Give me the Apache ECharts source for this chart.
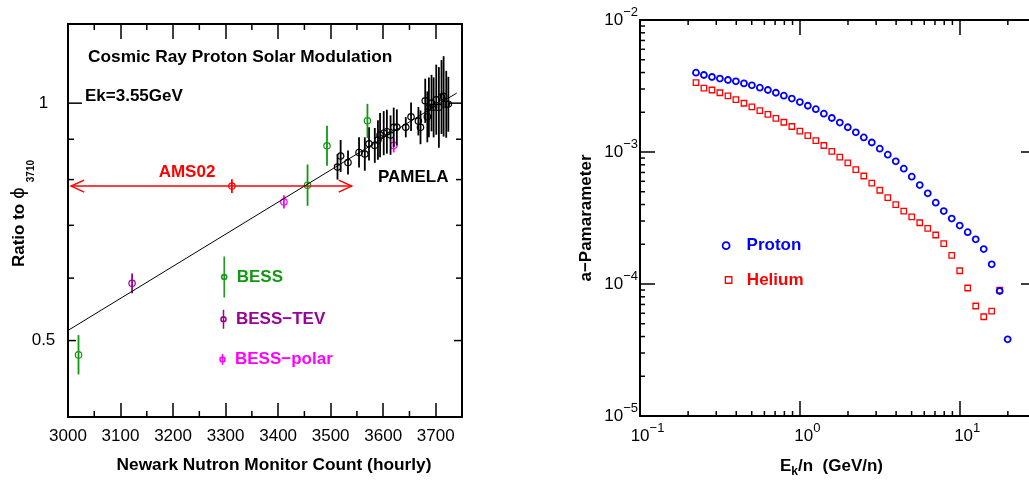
<!DOCTYPE html>
<html>
<head>
<meta charset="utf-8">
<script src="https://cdn.jsdelivr.net/npm/echarts@6.0.0/dist/echarts.min.js"></script>
<style>
  html, body { margin: 0; padding: 0; background: #fff; }
  #chart { width: 1029px; height: 482px; }
</style>
</head>
<body>
<div id="chart"></div>
<script>
// ---- left panel: ratio to phi_3710 vs Newark count ----
const countMin = 3000, countMax = 3750;
const countMinorTicks = [3050, 3150, 3250, 3350, 3450, 3550, 3650];
const ratioMin = 0.4, ratioMax = 1.26;
const ratioTicks = [0.5, 0.6, 0.7, 0.8, 0.9, 1];
const ratioTickLabels = ["0.5", "", "", "", "", "1"];

// fit line end points
const fitLineX = [3000, 3740];
const fitLineY = [0.515, 1.03];

// [count, ratio, ratio low, ratio high]
const pamela = [
  [3513, 0.830, 0.800, 0.862], [3519, 0.857, 0.818, 0.898], [3533, 0.841, 0.812, 0.871],
  [3554, 0.866, 0.829, 0.905], [3565, 0.862, 0.821, 0.905], [3573, 0.888, 0.846, 0.932],
  [3584, 0.884, 0.840, 0.930], [3590, 0.898, 0.848, 0.951], [3594, 0.911, 0.854, 0.972],
  [3601, 0.916, 0.859, 0.977], [3607, 0.920, 0.863, 0.981], [3614, 0.911, 0.860, 0.965],
  [3620, 0.932, 0.880, 0.987], [3626, 0.932, 0.884, 0.982], [3643, 0.932, 0.905, 0.960],
  [3653, 0.961, 0.922, 1.002], [3667, 0.949, 0.910, 0.989], [3671, 0.932, 0.887, 0.979],
  [3680, 1.007, 0.944, 1.074], [3684, 0.961, 0.892, 1.035], [3687, 0.988, 0.905, 1.078],
  [3692, 1.000, 0.921, 1.086], [3696, 0.988, 0.905, 1.078], [3701, 1.010, 0.912, 1.119],
  [3706, 0.988, 0.878, 1.111], [3711, 1.018, 0.914, 1.134], [3715, 1.020, 0.907, 1.147],
  [3720, 0.997, 0.904, 1.099], [3724, 0.997, 0.920, 1.080]
];
const bess = [
  [3020, 0.4795, 0.453, 0.508], [3456, 0.787, 0.741, 0.836],
  [3493, 0.883, 0.833, 0.936], [3570, 0.950, 0.903, 0.998]
];
const bessTev = [[3122, 0.591, 0.574, 0.608]];
const bessPolar = [[3411, 0.7495, 0.735, 0.764], [3620, 0.884, 0.866, 0.902]];
// [count, ratio, low, high, count from, count to]
const ams02 = [[3312, 0.785, 0.769, 0.801, 3006, 3540]];

// ---- right panel: a-parameter vs Ek/n ----
const energy = [
  0.224, 0.251, 0.282, 0.316, 0.355, 0.398, 0.447, 0.501, 0.562, 0.631,
  0.708, 0.794, 0.891, 1.0, 1.122, 1.259, 1.413, 1.585, 1.778, 1.995,
  2.239, 2.512, 2.818, 3.162, 3.548, 3.981, 4.467, 5.012, 5.623, 6.310,
  7.079, 7.943, 8.913, 10.0, 11.22, 12.59, 14.13, 15.85, 17.78, 19.95
];
const proton = [
  3.99e-3, 3.83e-3, 3.70e-3, 3.60e-3, 3.51e-3, 3.43e-3, 3.31e-3, 3.20e-3, 3.07e-3, 2.95e-3,
  2.81e-3, 2.67e-3, 2.54e-3, 2.39e-3, 2.24e-3, 2.11e-3, 1.95e-3, 1.81e-3, 1.67e-3, 1.54e-3,
  1.41e-3, 1.29e-3, 1.18e-3, 1.06e-3, 9.54e-4, 8.50e-4, 7.48e-4, 6.50e-4, 5.62e-4, 4.86e-4,
  4.13e-4, 3.57e-4, 3.13e-4, 2.77e-4, 2.47e-4, 2.18e-4, 1.84e-4, 1.41e-4, 8.85e-5, 3.81e-5
];
const helium = [
  3.35e-3, 3.05e-3, 2.95e-3, 2.81e-3, 2.66e-3, 2.49e-3, 2.34e-3, 2.20e-3, 2.06e-3, 1.93e-3,
  1.80e-3, 1.68e-3, 1.56e-3, 1.44e-3, 1.33e-3, 1.22e-3, 1.12e-3, 1.01e-3, 9.16e-4, 8.26e-4,
  7.35e-4, 6.58e-4, 5.82e-4, 5.13e-4, 4.51e-4, 3.99e-4, 3.56e-4, 3.22e-4, 2.91e-4, 2.64e-4,
  2.35e-4, 2.02e-4, 1.65e-4, 1.26e-4, 9.33e-5, 6.81e-5, 5.65e-5, 6.24e-5, 9.0e-5
];
const energyMin = 0.1, energyMax = 30;
const aMin = 1e-5, aMax = 1e-2;
const energyMinorTicks = [0.2, 0.3, 0.4, 0.5, 0.6, 0.7, 0.8, 0.9, 2, 3, 4, 5, 6, 7, 8, 9, 20];
const aMinorTicks = [
  2e-5, 3e-5, 4e-5, 5e-5, 6e-5, 7e-5, 8e-5, 9e-5,
  2e-4, 3e-4, 4e-4, 5e-4, 6e-4, 7e-4, 8e-4, 9e-4,
  2e-3, 3e-3, 4e-3, 5e-3, 6e-3, 7e-3, 8e-3, 9e-3
];

const FONT = "'Liberation Sans', Arial, Helvetica, sans-serif";
const GREEN = "#119911", PURPLE = "#990099", MAGENTA = "#ff00ff", RED = "#ff0000", BLUE = "#0000ff";

// 误差棒 + 空心圆
const errorPoint = (color) => (params, api) => {
  const x = api.value(0);
  const p = api.coord([x, api.value(1)]);
  const lo = api.coord([x, api.value(2)]);
  const hi = api.coord([x, api.value(3)]);
  return {
    type: "group",
    children: [
      { type: "line", shape: { x1: p[0], y1: lo[1], x2: p[0], y2: hi[1] }, style: { stroke: color, lineWidth: 1.8 } },
      { type: "circle", shape: { cx: p[0], cy: p[1], r: 3.2 }, style: { stroke: color, fill: "none", lineWidth: 1.2 } },
    ],
  };
};

// AMS02: 点 + 横向双箭头
const ams02Item = (params, api) => {
  const y = api.value(1);
  const p = api.coord([api.value(0), y]);
  const lo = api.coord([api.value(0), api.value(2)]);
  const hi = api.coord([api.value(0), api.value(3)]);
  const a = api.coord([api.value(4), y]);
  const b = api.coord([api.value(5), y]);
  const st = { stroke: RED, lineWidth: 1.5, fill: "none" };
  return {
    type: "group",
    children: [
      { type: "line", shape: { x1: a[0], y1: a[1], x2: b[0], y2: b[1] }, style: st },
      { type: "polyline", shape: { points: [[a[0] + 13, a[1] - 6], [a[0], a[1]], [a[0] + 13, a[1] + 6]] }, style: st },
      { type: "polyline", shape: { points: [[b[0] - 13, b[1] - 6], [b[0], b[1]], [b[0] - 13, b[1] + 6]] }, style: st },
      { type: "line", shape: { x1: p[0], y1: lo[1], x2: p[0], y2: hi[1] }, style: { stroke: RED, lineWidth: 1.8 } },
      { type: "circle", shape: { cx: p[0], cy: p[1], r: 3.2 }, style: { stroke: RED, fill: "none", lineWidth: 1.2 } },
    ],
  };
};

const tickStyle = { stroke: "#000", lineWidth: 1.5 };

// 左图 y 轴刻度（对数轴自定义刻度）
const ratioTickItem = (params, api) => {
  const cs = params.coordSys;
  const y = api.coord([api.value(0), api.value(1)])[1];
  const label = ratioTickLabels[params.dataIndex];
  const len = label === "1" ? 14 : label ? 8 : 6;
  const children = [
    { type: "line", shape: { x1: cs.x, y1: y, x2: cs.x + len, y2: y }, style: tickStyle },
    { type: "line", shape: { x1: cs.x + cs.width, y1: y, x2: cs.x + cs.width - len, y2: y }, style: tickStyle },
  ];
  if (label) {
    children.push({
      type: "text", x: cs.x - 24.5, y: y,
      style: { text: label, fill: "#000", fontSize: 17, fontFamily: FONT,
        align: "center", verticalAlign: "middle", textAlign: "center", textVerticalAlign: "middle" },
    });
  }
  return { type: "group", children };
};

// 上下边的小刻度
const xMinorItem = (len) => (params, api) => {
  const cs = params.coordSys;
  const x = api.coord([api.value(0), api.value(1)])[0];
  const bottom = cs.y + cs.height;
  return {
    type: "group",
    children: [
      { type: "line", shape: { x1: x, y1: cs.y, x2: x, y2: cs.y + len }, style: tickStyle },
      { type: "line", shape: { x1: x, y1: bottom, x2: x, y2: bottom - len }, style: tickStyle },
    ],
  };
};
// 左右边的小刻度
const yMinorItem = (len) => (params, api) => {
  const cs = params.coordSys;
  const y = api.coord([api.value(0), api.value(1)])[1];
  const right = cs.x + cs.width;
  return {
    type: "group",
    children: [
      { type: "line", shape: { x1: cs.x, y1: y, x2: cs.x + len, y2: y }, style: tickStyle },
      { type: "line", shape: { x1: right, y1: y, x2: right - len, y2: y }, style: tickStyle },
    ],
  };
};

const powLabel = (v) => {
  const e = Math.round(Math.log10(v));
  return (e < 0 ? "\u2212" + -e : "" + e);
};
const powRich = {
  b: { fontSize: 17, fontFamily: FONT, color: "#000" },
  e: { fontSize: 13, fontFamily: FONT, color: "#000", padding: [0, 0, 16, 0] },
};
const powRichX = {
  b: { fontSize: 17, fontFamily: FONT, color: "#000", padding: [0, 0, 0, 15] },
  e: { fontSize: 13, fontFamily: FONT, color: "#000", padding: [0, 0, 16, 0] },
};

const hiddenAxisParts = { axisLine: { show: false }, splitLine: { show: false } };

const chart = echarts.init(document.getElementById("chart"));

const option = {
  animation: false,
  textStyle: { fontFamily: FONT },
  grid: [
    { left: 68, top: 24, width: 394, height: 393, show: true, borderColor: "#000", borderWidth: 2,
      backgroundColor: "transparent", containLabel: false, outerBoundsMode: "none" },
    { left: 640, top: 20, width: 396, height: 396, show: true, borderColor: "#000", borderWidth: 2,
      backgroundColor: "transparent", containLabel: false, outerBoundsMode: "none" },
  ],
  xAxis: [
    {
      gridIndex: 0, type: "value", position: "bottom", min: countMin, max: countMax, interval: 100,
      ...hiddenAxisParts,
      axisTick: { show: true, inside: true, length: 14, lineStyle: { color: "#000", width: 1.5 } },
      axisLabel: { color: "#000", fontSize: 17, fontFamily: FONT, margin: 11, showMaxLabel: false,
        formatter: (v) => String(v) },
      name: "Newark Nutron Monitor Count (hourly)", nameLocation: "middle", nameGap: 40,
      nameTextStyle: { color: "#000", fontSize: 17.3, fontWeight: "bold", fontFamily: FONT, padding: [0, 0, 0, 18] },
    },
    {
      gridIndex: 0, type: "value", position: "top", min: countMin, max: countMax, interval: 100,
      ...hiddenAxisParts,
      axisTick: { show: true, inside: true, length: 15, lineStyle: { color: "#000", width: 1.5 } },
      axisLabel: { show: false },
    },
    {
      gridIndex: 1, type: "log", logBase: 10, position: "bottom", min: energyMin, max: energyMax,
      ...hiddenAxisParts,
      axisTick: { show: true, inside: true, length: 15, lineStyle: { color: "#000", width: 1.5 } },
      axisLabel: {
        margin: 6, showMaxLabel: false,
        formatter: (v) => "{b|10}{e|" + powLabel(v) + "}", rich: powRichX,
      },
      name: "{b|E}{k|k}{b|/n  (GeV/n)}", nameLocation: "middle", nameGap: 38,
      nameTextStyle: {
        color: "#000", fontSize: 17, fontWeight: "bold", fontFamily: FONT, padding: [0, 13, 0, 0],
        rich: {
          b: { fontSize: 17, fontWeight: "bold", fontFamily: FONT, color: "#000" },
          k: { fontSize: 12, fontWeight: "bold", fontFamily: FONT, color: "#000", padding: [12, 0, 0, 0] },
        },
      },
    },
    {
      gridIndex: 1, type: "log", logBase: 10, position: "top", min: energyMin, max: energyMax,
      ...hiddenAxisParts,
      axisTick: { show: true, inside: true, length: 15, lineStyle: { color: "#000", width: 1.5 } },
      axisLabel: { show: false },
    },
  ],
  yAxis: [
    {
      gridIndex: 0, type: "log", logBase: 10, min: ratioMin, max: ratioMax,
      ...hiddenAxisParts,
      axisTick: { show: false },
      axisLabel: { show: false },
      name: "Ratio to {phi|\u03d5}{sub|3710}", nameLocation: "middle", nameGap: 32,
      nameTextStyle: {
        color: "#000", fontSize: 17, fontWeight: "bold", fontFamily: FONT, padding: [0, 0, 0, 14],
        rich: {
          phi: { fontSize: 18, fontWeight: "normal", fontFamily: "'DejaVu Sans'", color: "#000" },
          sub: { fontSize: 10, fontWeight: "bold", fontFamily: FONT, color: "#000", padding: [24, 0, 0, 5] },
        },
      },
    },
    {
      gridIndex: 1, type: "log", logBase: 10, position: "left", min: aMin, max: aMax,
      ...hiddenAxisParts,
      axisTick: { show: true, inside: true, length: 15, lineStyle: { color: "#000", width: 1.5 } },
      axisLabel: {
        margin: 2,
        formatter: (v) => "{b|10}{e|" + powLabel(v) + "}", rich: powRich,
      },
      name: "a\u2212Pamarameter", nameLocation: "middle", nameGap: 45,
      nameTextStyle: { color: "#000", fontSize: 17, fontWeight: "bold", fontFamily: FONT },
    },
    {
      gridIndex: 1, type: "log", logBase: 10, position: "right", min: aMin, max: aMax,
      ...hiddenAxisParts,
      axisTick: { show: true, inside: true, length: 15, lineStyle: { color: "#000", width: 1.5 } },
      axisLabel: { show: false },
    },
  ],
  legend: [
    {
      left: 219.2, top: 254, orient: "vertical", padding: 0, selectedMode: false,
      itemWidth: 5, itemHeight: 41,
      data: [{ name: "BESS", icon: "path://M2.5,0L2.5,41M0,20.5A2.5,2.5,0,1,1,5,20.5A2.5,2.5,0,1,1,0,20.5" }],
      itemStyle: { color: "none", borderColor: GREEN, borderWidth: 1.5 },
      textStyle: { color: GREEN, fontSize: 17, fontWeight: "bold", fontFamily: FONT, lineHeight: 17, padding: [9, 0, 0, 5] },
    },
    {
      left: 218.5, top: 307.2, orient: "vertical", padding: 0, selectedMode: false,
      itemWidth: 5, itemHeight: 19,
      data: [{ name: "BESS\u2212TEV", icon: "path://M2.5,0L2.5,19M0,9.5A2.5,2.5,0,1,1,5,9.5A2.5,2.5,0,1,1,0,9.5" }],
      itemStyle: { color: "none", borderColor: PURPLE, borderWidth: 1.5 },
      textStyle: { color: PURPLE, fontSize: 17, fontWeight: "bold", fontFamily: FONT, lineHeight: 17, padding: [0, 0, 0, 5] },
    },
    {
      left: 217.5, top: 351, orient: "vertical", padding: 0, selectedMode: false,
      itemWidth: 5, itemHeight: 11,
      data: [{ name: "BESS\u2212polar", icon: "path://M2.5,0L2.5,11M0,5.5A2.5,2.5,0,1,1,5,5.5A2.5,2.5,0,1,1,0,5.5" }],
      itemStyle: { color: "none", borderColor: MAGENTA, borderWidth: 1.5 },
      textStyle: { color: MAGENTA, fontSize: 17, fontWeight: "bold", fontFamily: FONT, lineHeight: 17, padding: [0, 0, 0, 5] },
    },
    {
      left: 721.7, top: 237.2, orient: "vertical", padding: 0, selectedMode: false,
      itemWidth: 7, itemHeight: 7,
      data: [{ name: "Proton", icon: "circle" }],
      itemStyle: { color: "transparent", borderColor: BLUE, borderWidth: 1.8 },
      textStyle: { color: BLUE, fontSize: 17, fontWeight: "bold", fontFamily: FONT, lineHeight: 17, padding: [0, 0, 0, 12] },
    },
    {
      left: 724.7, top: 271.5, orient: "vertical", padding: 0, selectedMode: false,
      itemWidth: 6.5, itemHeight: 6.5,
      data: [{ name: "Helium", icon: "rect" }],
      itemStyle: { color: "transparent", borderColor: RED, borderWidth: 1.3 },
      textStyle: { color: RED, fontSize: 17, fontWeight: "bold", fontFamily: FONT, lineHeight: 17, padding: [0, 0, 0, 10] },
    },
  ],
  graphic: [
    { type: "text", x: 88, y: 57, silent: true,
      style: { text: "Cosmic Ray Proton Solar Modulation", fill: "#000", fontSize: 17.3, fontWeight: "bold", fontFamily: FONT,
        verticalAlign: "middle", textVerticalAlign: "middle" } },
    { type: "text", x: 85, y: 96, silent: true,
      style: { text: "Ek=3.55GeV", fill: "#000", fontSize: 17, fontWeight: "bold", fontFamily: FONT,
        verticalAlign: "middle", textVerticalAlign: "middle" } },
    { type: "text", x: 187, y: 172.5, silent: true,
      style: { text: "AMS02", fill: RED, fontSize: 17, fontWeight: "bold", fontFamily: FONT,
        align: "center", textAlign: "center", verticalAlign: "middle", textVerticalAlign: "middle" } },
    { type: "text", x: 378, y: 177.5, silent: true,
      style: { text: "PAMELA", fill: "#000", fontSize: 17, fontWeight: "bold", fontFamily: FONT,
        verticalAlign: "middle", textVerticalAlign: "middle" } },
  ],
  series: [
    {
      name: "fit", type: "line", xAxisIndex: 0, yAxisIndex: 0, silent: true,
      showSymbol: false, symbol: "none",
      lineStyle: { color: "#000", width: 1 },
      data: fitLineX.map((x, i) => [x, fitLineY[i]]),
    },
    { name: "BESS\u2212polar", type: "custom", xAxisIndex: 0, yAxisIndex: 0, silent: true,
      itemStyle: { color: MAGENTA }, renderItem: errorPoint(MAGENTA), data: bessPolar },
    { name: "PAMELA", type: "custom", xAxisIndex: 0, yAxisIndex: 0, silent: true,
      itemStyle: { color: "#000" }, renderItem: errorPoint("#000"), data: pamela },
    { name: "BESS", type: "custom", xAxisIndex: 0, yAxisIndex: 0, silent: true,
      itemStyle: { color: GREEN }, renderItem: errorPoint(GREEN), data: bess },
    { name: "BESS\u2212TEV", type: "custom", xAxisIndex: 0, yAxisIndex: 0, silent: true,
      itemStyle: { color: PURPLE }, renderItem: errorPoint(PURPLE), data: bessTev },
    { name: "AMS02", type: "custom", xAxisIndex: 0, yAxisIndex: 0, silent: true,
      itemStyle: { color: RED }, renderItem: ams02Item, data: ams02 },
    { name: "ratioTicks", type: "custom", xAxisIndex: 0, yAxisIndex: 0, silent: true,
      renderItem: ratioTickItem, data: ratioTicks.map((v) => [countMin, v]) },
    { name: "countMinor", type: "custom", xAxisIndex: 0, yAxisIndex: 0, silent: true,
      renderItem: xMinorItem(6), data: countMinorTicks.map((v) => [v, ratioTicks[0]]) },

    {
      name: "Proton", type: "scatter", xAxisIndex: 2, yAxisIndex: 1, silent: true,
      symbol: "circle", symbolSize: 6,
      itemStyle: { color: "transparent", borderColor: BLUE, borderWidth: 1.8, opacity: 1 },
      data: proton.map((v, i) => [energy[i], v]),
    },
    {
      name: "Helium", type: "scatter", xAxisIndex: 2, yAxisIndex: 1, silent: true,
      symbol: "rect", symbolSize: 5.5,
      itemStyle: { color: "transparent", borderColor: RED, borderWidth: 1.3, opacity: 1 },
      data: helium.map((v, i) => [energy[i], v]),
      z: 1,
    },
    { name: "energyMinor", type: "custom", xAxisIndex: 2, yAxisIndex: 1, silent: true,
      renderItem: xMinorItem(5), data: energyMinorTicks.map((v) => [v, aMinorTicks[0]]) },
    { name: "aMinor", type: "custom", xAxisIndex: 2, yAxisIndex: 1, silent: true,
      renderItem: yMinorItem(5), data: aMinorTicks.map((v) => [energyMinorTicks[0], v]) },
  ],
};

chart.setOption(option);
window.addEventListener("resize", () => chart.resize());
</script>
</body>
</html>
